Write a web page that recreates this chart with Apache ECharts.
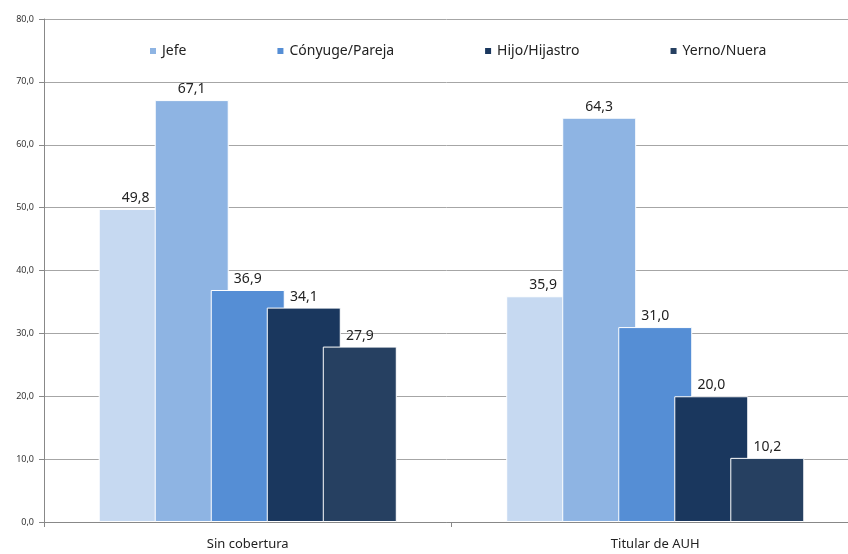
<!DOCTYPE html>
<html>
<head>
<meta charset="utf-8">
<script src="https://cdn.jsdelivr.net/npm/echarts@6/dist/echarts.min.js"></script>
<style>
  html, body { margin: 0; padding: 0; background: #fff; }
  #main { width: 848px; height: 554px; }
</style>
</head>
<body>
<div id="main"></div>
<script>
// categorias y valores (%)
var categories = ['Sin cobertura', 'Titular de AUH'];
var seriesNames = ['Total', 'Jefe', 'Cónyuge/Pareja', 'Hijo/Hijastro', 'Yerno/Nuera'];
var total = [49.8, 35.9];
var jefe = [67.1, 64.3];
var conyuge = [36.9, 31.0];
var hijo = [34.1, 20.0];
var yerno = [27.9, 10.2];
var legendNames = ['Jefe', 'Cónyuge/Pareja', 'Hijo/Hijastro', 'Yerno/Nuera'];
var colors = ['#c6d9f1', '#8eb4e3', '#558ed5', '#1a375e', '#264061'];

var chartDom = document.getElementById('main');
var myChart = echarts.init(chartDom);

function fmt(v) {
  return Number(v).toFixed(1).replace('.', ',');
}

var values = [total, jefe, conyuge, hijo, yerno];
var series = values.map(function (d, i) {
  return {
    name: seriesNames[i],
    type: 'bar',
    data: d,
    barWidth: 74,
    barGap: '-24.3%',
    itemStyle: { color: colors[i], borderColor: '#fff', borderWidth: 1 },
    label: {
      show: true,
      position: 'top',
      distance: 4,
      color: '#222',
      fontSize: 14,
      fontFamily: 'Noto Sans',
      formatter: function (p) { return fmt(p.value); }
    },
    animation: false
  };
});

var option = {
  backgroundColor: '#fff',
  color: colors,
  // el area del grafico se sale por la derecha (recortada en el original)
  grid: { left: 44, right: -11, top: 19, bottom: 32, outerBoundsMode: 'none' },
  legend: {
    data: legendNames,
    top: 39,
    left: 143,
    itemWidth: 8,
    itemHeight: 8,
    itemGap: 89,
    icon: 'rect',
    textStyle: { fontSize: 14, color: '#222', fontFamily: 'Noto Sans' }
  },
  xAxis: {
    type: 'category',
    data: categories,
    axisLine: { lineStyle: { color: '#888' } },
    axisTick: { show: true, length: 5, lineStyle: { color: '#888' } },
    axisLabel: { fontSize: 13, color: '#222', margin: 16, fontFamily: 'Noto Sans' }
  },
  yAxis: {
    type: 'value',
    min: 0,
    max: 80,
    interval: 10,
    axisLine: { show: true, lineStyle: { color: '#888' } },
    axisTick: { show: true, length: 5, lineStyle: { color: '#888' } },
    axisLabel: {
      fontSize: 9,
      color: '#333',
      margin: 10,
      fontFamily: 'Noto Sans',
      formatter: fmt
    },
    splitLine: { lineStyle: { color: '#a6a6a6' } }
  },
  series: series
};

option && myChart.setOption(option);
</script>
</body>
</html>
